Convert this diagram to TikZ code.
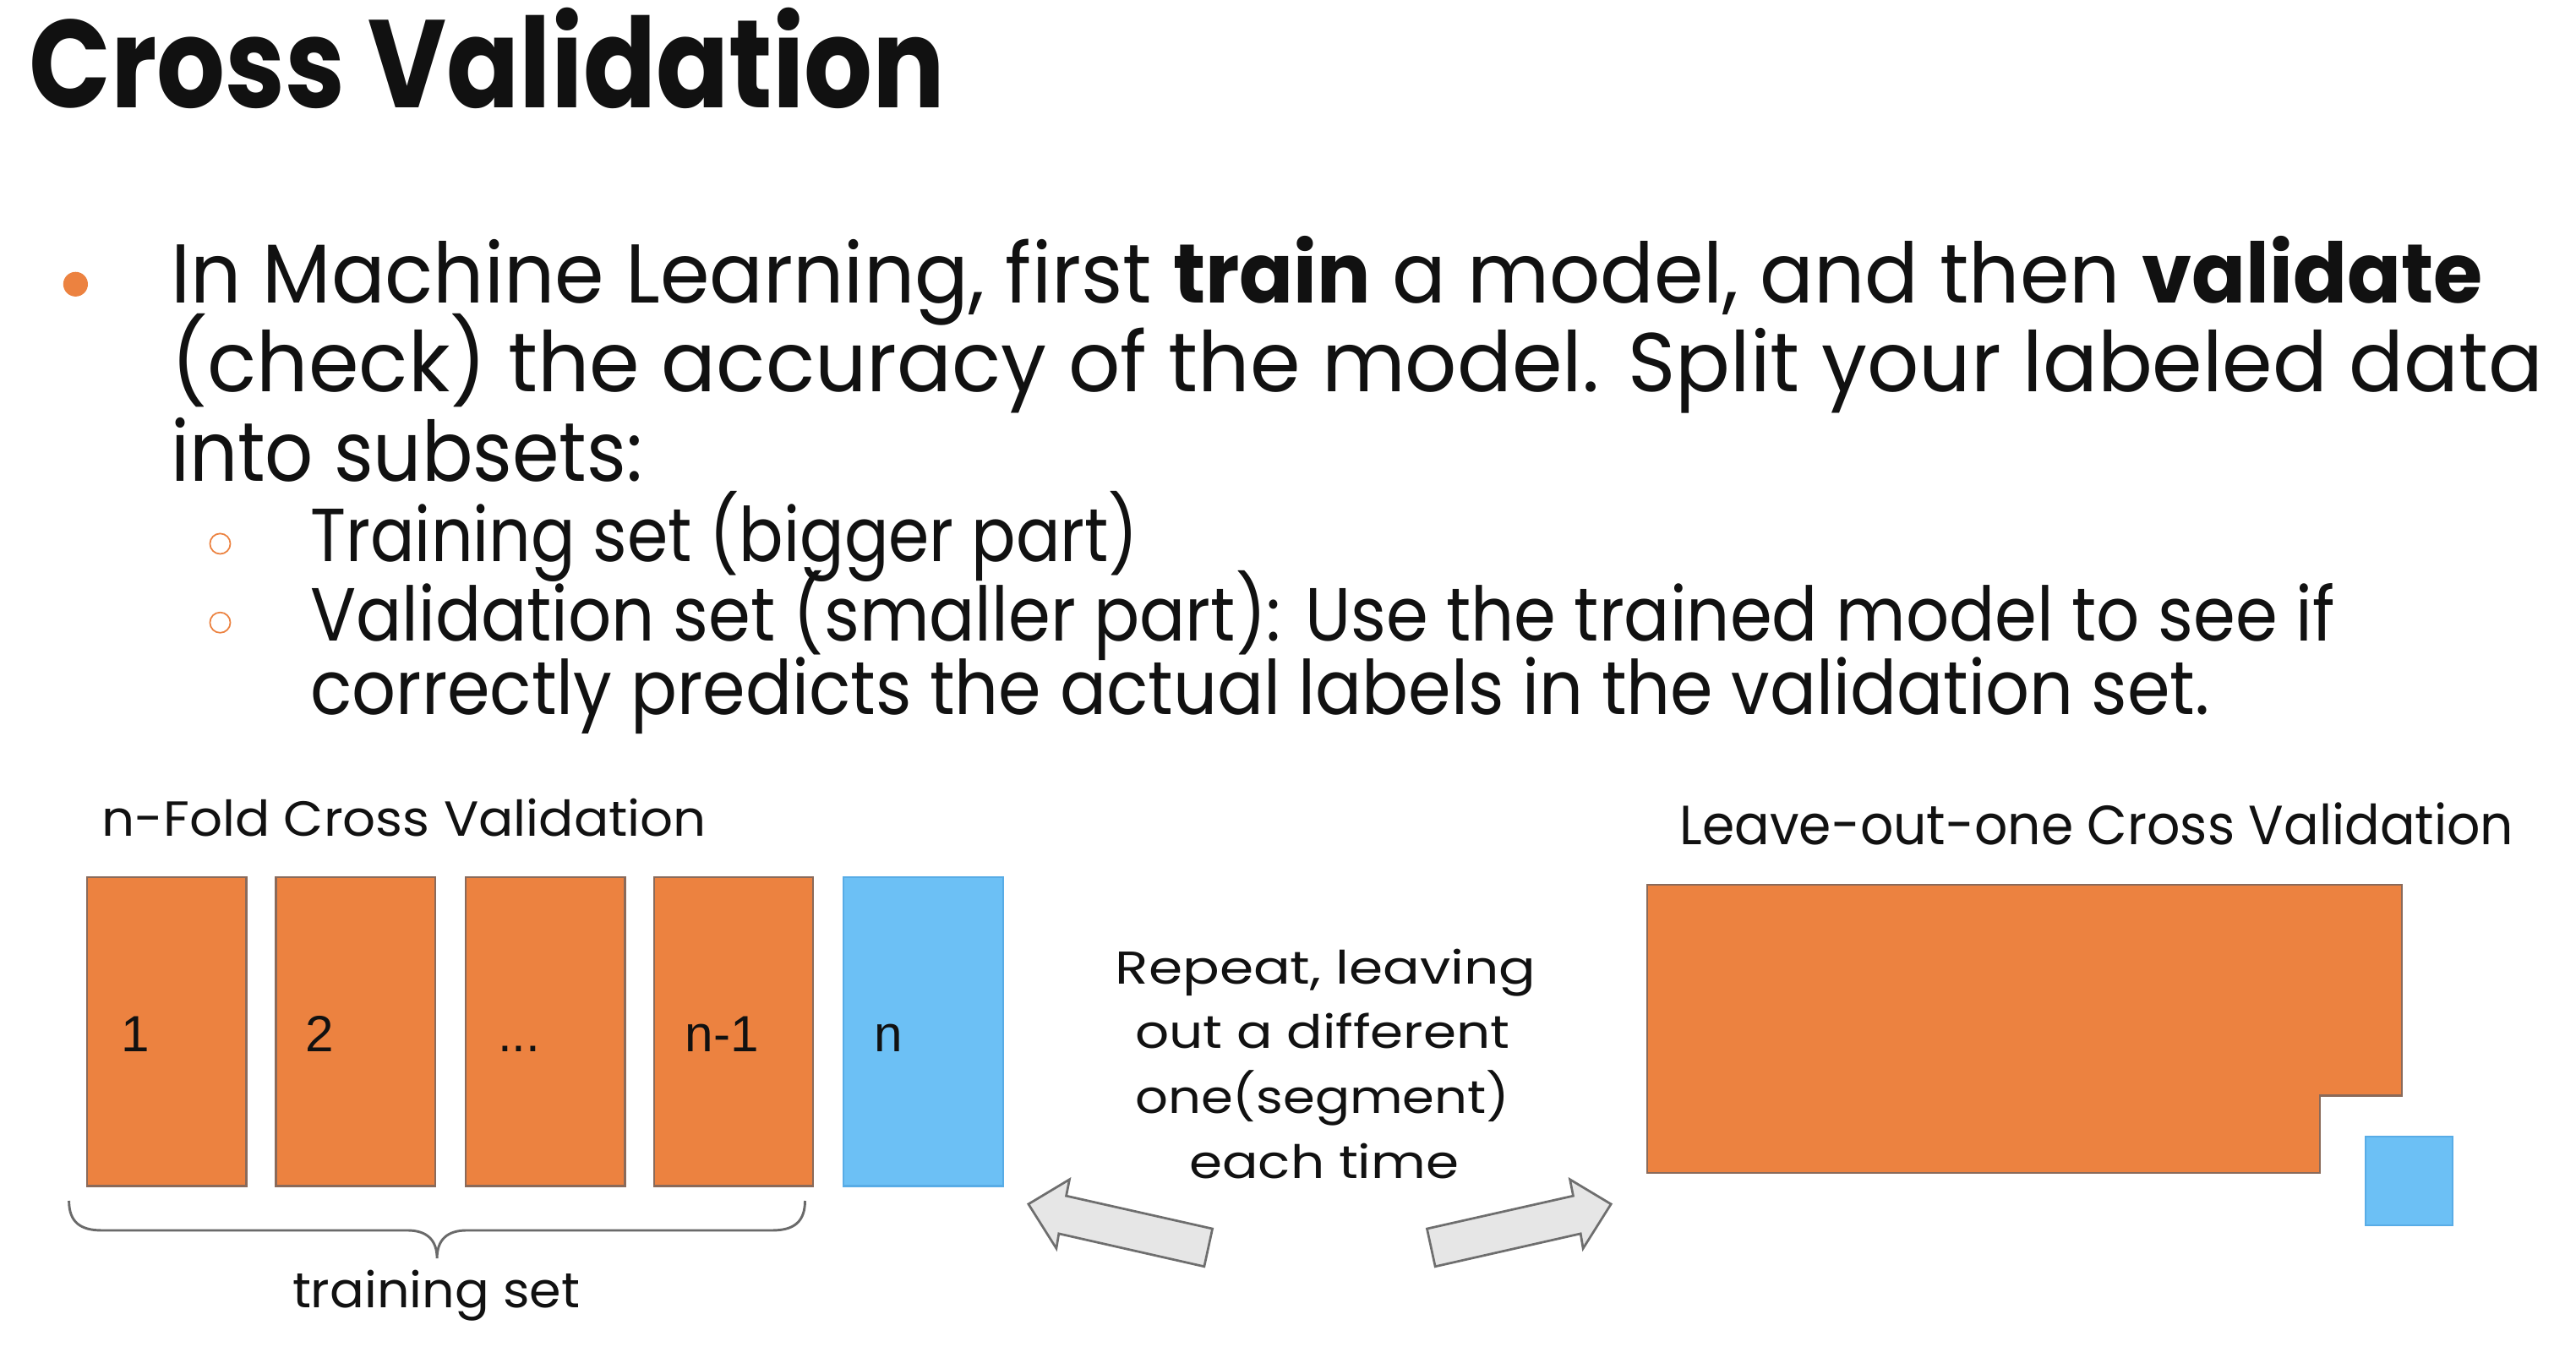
\documentclass[tikz,border=0pt]{standalone}
\usepackage{fontspec}
\setmainfont{Poppins}
\newfontfamily\arialf{Liberation Sans}
\usepackage{graphicx}
\definecolor{orangeF}{HTML}{EC8240}
\definecolor{orangeB}{HTML}{8A6A5A}
\definecolor{blueF}{HTML}{6CC0F5}
\definecolor{blueB}{HTML}{58ACE6}
\definecolor{bulorange}{HTML}{EC8240}
\definecolor{arrowF}{HTML}{E6E6E6}
\definecolor{arrowB}{HTML}{6E6E6E}
\definecolor{braceC}{HTML}{6A6A6A}
\definecolor{txtC}{HTML}{111111}
\newcommand{\fw}[2]{\resizebox{#1}{\height}{#2}}
\begin{document}
\begin{tikzpicture}[x=0.5pt,y=-0.5pt,
  txt/.style={anchor=base west, inner sep=0pt, outer sep=0pt, text=txtC},
  ctxt/.style={anchor=base, inner sep=0pt, outer sep=0pt, text=txtC},
  obox/.style={draw=orangeB, fill=orangeF, line width=0.6pt, minimum width=48.5pt, minimum height=94pt, inner sep=0pt},
  bbox/.style={draw=blueB, fill=blueF, line width=0.6pt, minimum width=48.5pt, minimum height=94pt, inner sep=0pt},
  numlab/.style={anchor=base west, inner sep=0pt, outer sep=0pt, font=\arialf\fontsize{15.5}{18}\selectfont, text=txtC},
  blockarrow/.style={draw=arrowB, fill=arrowF, line width=0.7pt, line join=miter},
  bracestyle/.style={draw=braceC, line width=0.75pt},
  dotbullet/.style={circle, fill=bulorange, inner sep=0pt, minimum size=7.5pt},
  ringbullet/.style={circle, draw=bulorange, line width=0.45pt, inner sep=0pt, minimum size=6.2pt}
]
\fill[white] (0,0) rectangle (1568,820);
\useasboundingbox (0,0) rectangle (1568,820);

% title
\node[txt] (title) at (17.7,65.7) {\fontsize{38}{44}\selectfont\bfseries\fw{278.9pt}{Cross Validation}};

% main bullet
\node[dotbullet] (bu1) at (46,173) {};
\node[txt] (l1) at (104,184.5) {\fontsize{25.4}{30}\selectfont\fw{703.5pt}{In Machine Learning, first \textbf{train} a model, and then \textbf{validate}}};
\node[txt] (l2) at (104,238.6) {\fontsize{25.4}{30}\selectfont\fw{722pt}{(check) the accuracy of the model. Split your labeled data}};
\node[txt] (l3) at (104,293) {\fontsize{25.4}{30}\selectfont\fw{143.5pt}{into subsets:}};

% sub bullets
\node[ringbullet] (sb1) at (134,331) {};
\node[ringbullet] (sb2) at (134,379) {};
\node[txt] (l4) at (189,342) {\fontsize{22.9}{27}\selectfont\fw{252pt}{Training set (bigger part)}};
\node[txt] (l5) at (189,390) {\fontsize{22.9}{27}\selectfont\fw{616pt}{Validation set (smaller part): Use the trained model to see if}};
\node[txt] (l6) at (189,435) {\fontsize{22.9}{27}\selectfont\fw{578pt}{correctly predicts the actual labels in the validation set.}};

% n-fold
\node[txt] (nfold) at (62,509) {\fontsize{15}{18}\selectfont\fw{184pt}{n-Fold Cross Validation}};
\node[obox] (b1) at (101.5,628) {};
\node[obox] (b2) at (216.5,628) {};
\node[obox] (b3) at (332,628) {};
\node[obox] (b4) at (446.5,628) {};
\node[bbox] (b5) at (562,628) {};
\node[numlab] (n1) at (74,640) {1};
\node[numlab] (n2) at (186,640) {2};
\node[numlab] (n3) at (303,640) {...};
\node[numlab] (n4) at (417,640) {n-1};
\node[numlab] (n5) at (532,640) {n};

% brace
\coordinate (brL) at (42,731);
\coordinate (brR) at (490,731);
\coordinate (brT) at (266,766);
\draw[bracestyle] (brL) .. controls (42,744) and (49,749) .. (62,749) -- (248,749)
  .. controls (260,749) and (266,755) .. (brT)
  .. controls (266,755) and (272,749) .. (284,749) -- (470,749)
  .. controls (483,749) and (490,744) .. (brR);
\node[txt] (tset) at (178,796) {\fontsize{15}{18}\selectfont\fw{87.5pt}{training set}};

% repeat text
\node[ctxt] (r1) at (807,599) {\fontsize{14}{17}\selectfont\fw{128pt}{Repeat, leaving}};
\node[ctxt] (r2) at (805,638) {\fontsize{14}{17}\selectfont\fw{114pt}{out a different}};
\node[ctxt] (r3) at (805,678) {\fontsize{14}{17}\selectfont\fw{114pt}{one(segment)}};
\node[ctxt] (r4) at (806,717.6) {\fontsize{14}{17}\selectfont\fw{82pt}{each time}};

% block arrows
\draw[blockarrow] (626,733) -- (651,718) -- (649,728) -- (738,748) -- (733,771) -- (644.5,751) -- (643,760) -- cycle;
\draw[blockarrow] (980.6,733) -- (955.6,718) -- (957.6,728) -- (868.6,748) -- (873.6,771) -- (962.1,751) -- (963.6,760) -- cycle;

% leave-out-one
\node[txt] (loo) at (1022.6,514) {\fontsize{16.8}{20}\selectfont\fw{253.7pt}{Leave-out-one Cross Validation}};
\draw[draw=orangeB, fill=orangeF, line width=0.6pt] (1002.6,538.5) coordinate (bigA) -- (1462,538.5) -- (1462,667) -- (1412,667) -- (1412,714) -- (1002.6,714) -- cycle;
\node[draw=blueB, fill=blueF, line width=0.6pt, minimum width=26.5pt, minimum height=27pt, inner sep=0pt] (small) at (1466.5,719) {};
\end{tikzpicture}
\end{document}
